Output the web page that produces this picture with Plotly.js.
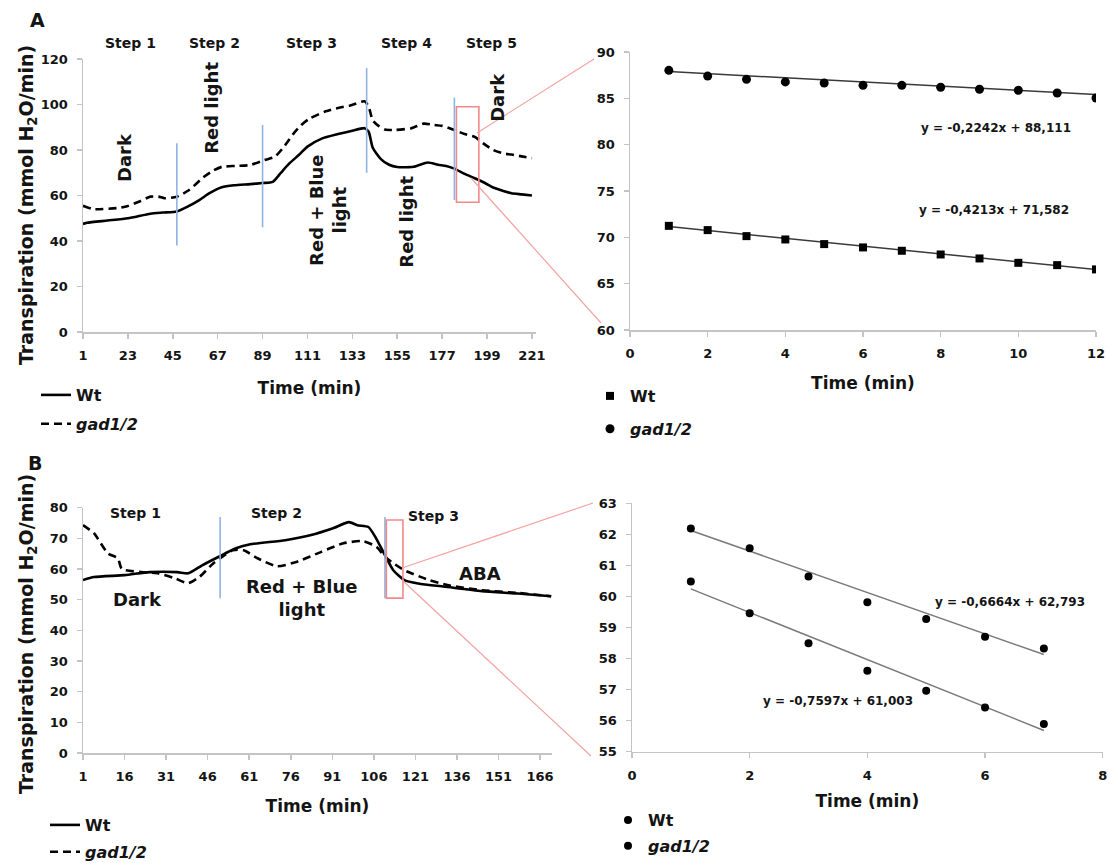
<!DOCTYPE html>
<html><head><meta charset="utf-8">
<script src="https://cdn.plot.ly/plotly-3.0.1.min.js"></script>
<style>html,body{margin:0;padding:0;background:#fff}#chart{width:1109px;height:863px}</style>
</head><body><div id="chart"></div>
<script>
// ---------- Panel A: time course (min 1-221) ----------
const A_ticks = [1, 23, 45, 67, 89, 111, 133, 155, 177, 199, 221];
const A_wt_t = [1, 3, 13, 23, 34, 40, 47, 52, 58, 63, 69, 75, 83, 89, 94, 98, 102, 107, 111, 118, 126, 133, 139, 141, 143, 147, 151, 155, 163, 170, 175, 179, 183, 188, 193, 198, 202, 207, 211, 216, 221];
const A_wt_v = [47.5, 48, 49, 50, 52, 52.5, 53, 55, 58, 61, 63.6, 64.5, 65, 65.5, 66, 70, 74, 78, 81.5, 85, 87, 88.5, 89.6, 88, 81, 76, 73.5, 72.5, 72.6, 74.5, 73.5, 73, 71.8, 69.5, 67.6, 65.5, 63.5, 62, 61, 60.5, 60];
const A_gad_t = [1, 6, 18, 23, 29, 34, 38, 41, 47, 53, 60, 65, 69, 76, 83, 90, 95, 100, 104, 108, 112, 120, 126, 132, 139, 141, 143, 146, 149, 154, 162, 168, 173, 177, 183, 188, 193, 197, 202, 207, 211, 216, 221];
const A_gad_v = [55.5, 54, 54.5, 55.4, 57.5, 59.5, 59.5, 58.8, 59.5, 62.4, 68, 71, 72.6, 73, 73.4, 75.6, 77, 82, 87, 91, 93.8, 97, 98.5, 99.6, 101.4, 99, 93, 90.5, 89, 88.8, 89.6, 91.6, 91, 90.6, 88.8, 87, 85.8, 83, 80, 78.5, 78, 77.2, 76.4];
const A_step_x = [47, 89, 140, 183];
const A_step_lo = [38, 46, 70, 58];
const A_step_hi = [83, 91, 116, 103];
const A_box_x = [184, 195];
const A_box_y = [57, 99];

// ---------- Panel A zoom (12 min, Step 5) ----------
const Az_t = [1, 2, 3, 4, 5, 6, 7, 8, 9, 10, 11, 12];
const Az_wt = [71.24, 70.78, 70.13, 69.77, 69.27, 68.91, 68.55, 68.15, 67.72, 67.25, 67.0, 66.54];
const Az_gad = [88.02, 87.4, 87.05, 86.77, 86.66, 86.4, 86.4, 86.2, 85.98, 85.87, 85.58, 85.04];
const Az_fit_wt = [-0.4213, 71.582];
const Az_fit_gad = [-0.2242, 88.111];

// ---------- Panel B: time course (min 1-170) ----------
const B_ticks = [1, 16, 31, 46, 61, 76, 91, 106, 121, 136, 151, 166];
const B_wt_t = [1, 5, 16, 25, 35, 39, 44, 50, 56, 61, 74, 83, 91, 97, 100, 104, 106.5, 110, 113, 117, 122, 132, 145, 158, 170];
const B_wt_v = [56.4, 57.4, 58, 59, 59, 58.6, 61.2, 64, 66.7, 68, 69.4, 71, 73.2, 75.3, 74.3, 73.7, 70.5, 64.5, 59.6, 56.4, 55.3, 54.2, 52.8, 52, 51.1];
const B_gad_t = [1, 5, 10, 13.6, 15, 22, 28, 34, 39, 43, 48, 55, 59, 64, 71, 78, 87, 95, 102, 107, 110, 113, 117, 126, 133, 145, 158, 170];
const B_gad_v = [74.3, 71.6, 65.1, 63.5, 60, 59, 58.6, 57, 55.4, 57.4, 61.8, 66.1, 66.1, 63.5, 60.9, 62.3, 65.6, 68.4, 69.1, 67.2, 64, 61.9, 59.6, 56.4, 54.7, 53.1, 52.2, 51.1];
const B_step_x = [50.5, 110];
const B_step_lo = [50.5, 50.5];
const B_step_hi = [77, 77];
const B_box_x = [110.5, 116.5];
const B_box_y = [50.5, 76];

// ---------- Panel B zoom (7 min, ABA) ----------
const Bz_t = [1, 2, 3, 4, 5, 6, 7];
const Bz_wt = [60.48, 59.46, 58.49, 57.61, 56.96, 56.42, 55.89];
const Bz_gad = [62.19, 61.55, 60.64, 59.81, 59.27, 58.70, 58.32];
const Bz_fit_wt = [-0.7597, 61.003];
const Bz_fit_gad = [-0.6664, 62.793];

const F = 'DejaVu Sans, sans-serif';
const INK = '#141414';
const W = 1109, H = 863;
const px = v => v / W, py = v => 1 - v / H;

function fitLine(fit, xs) { return xs.map(x => fit[0] * x + fit[1]); }

const traces = [
  {x: A_wt_t, y: A_wt_v, xaxis: 'x', yaxis: 'y', mode: 'lines', name: 'Wt', legend: 'legend', legendgroup: 'a1',
   line: {color: '#000', width: 2.6, shape: 'spline', smoothing: 0.6}},
  {x: A_gad_t, y: A_gad_v, xaxis: 'x', yaxis: 'y', mode: 'lines', name: '<i>gad1/2</i>', legend: 'legend', legendgroup: 'a2',
   line: {color: '#000', width: 2.6, dash: '8px,5px', shape: 'spline', smoothing: 0.6}},

  {x: [1, 12], y: fitLine(Az_fit_wt, [1, 12]), xaxis: 'x2', yaxis: 'y2', mode: 'lines', showlegend: false,
   line: {color: '#3a3a3a', width: 1.5}},
  {x: [1, 12], y: fitLine(Az_fit_gad, [1, 12]), xaxis: 'x2', yaxis: 'y2', mode: 'lines', showlegend: false,
   line: {color: '#3a3a3a', width: 1.5}},
  {x: Az_t, y: Az_wt, xaxis: 'x2', yaxis: 'y2', mode: 'markers', name: 'Wt', legend: 'legend2', legendgroup: 'b1',
   marker: {symbol: 'square', size: 8, color: '#000'}},
  {x: Az_t, y: Az_gad, xaxis: 'x2', yaxis: 'y2', mode: 'markers', name: '<i>gad1/2</i>', legend: 'legend2', legendgroup: 'b2',
   marker: {symbol: 'circle', size: 9, color: '#000'}},

  {x: B_wt_t, y: B_wt_v, xaxis: 'x3', yaxis: 'y3', mode: 'lines', name: 'Wt', legend: 'legend3', legendgroup: 'c1',
   line: {color: '#000', width: 2.6, shape: 'spline', smoothing: 0.6}},
  {x: B_gad_t, y: B_gad_v, xaxis: 'x3', yaxis: 'y3', mode: 'lines', name: '<i>gad1/2</i>', legend: 'legend3', legendgroup: 'c2',
   line: {color: '#000', width: 2.6, dash: '8px,5px', shape: 'spline', smoothing: 0.6}},

  {x: [1, 7], y: fitLine(Bz_fit_wt, [1, 7]), xaxis: 'x4', yaxis: 'y4', mode: 'lines', showlegend: false,
   line: {color: '#7a7a7a', width: 1.5}},
  {x: [1, 7], y: fitLine(Bz_fit_gad, [1, 7]), xaxis: 'x4', yaxis: 'y4', mode: 'lines', showlegend: false,
   line: {color: '#7a7a7a', width: 1.5}},
  {x: Bz_t, y: Bz_wt, xaxis: 'x4', yaxis: 'y4', mode: 'markers', name: 'Wt', legend: 'legend4', legendgroup: 'd1',
   marker: {symbol: 'circle', size: 8, color: '#000'}},
  {x: Bz_t, y: Bz_gad, xaxis: 'x4', yaxis: 'y4', mode: 'markers', name: '<i>gad1/2</i>', legend: 'legend4', legendgroup: 'd2',
   marker: {symbol: 'circle', size: 8, color: '#000'}}
];

const tickFont = {family: F, size: 13, weight: 'bold', color: INK};
const titleFont = {family: F, size: 17, weight: 'bold', color: INK};
function axis(extra) {
  return Object.assign({
    showline: true, linecolor: '#c4c4c4', linewidth: 1.5, ticks: 'outside', ticklen: 5, tickcolor: '#c4c4c4',
    tickwidth: 1.5, showgrid: false, zeroline: false, tickfont: tickFont, fixedrange: true, ticklabelstandoff: 6,
    automargin: false
  }, extra);
}
function xTitle(s) { return {text: 'Time (min)', font: titleFont, standoff: s}; }
const Y_TITLE = 'Transpiration (mmol H<sub>2</sub>O/min)';

const shapes = [];
A_step_x.forEach((x, i) => shapes.push({type: 'line', xref: 'x', yref: 'y', x0: x, x1: x, y0: A_step_lo[i], y1: A_step_hi[i], line: {color: '#8db3e2', width: 1.6}}));
B_step_x.forEach((x, i) => shapes.push({type: 'line', xref: 'x3', yref: 'y3', x0: x, x1: x, y0: B_step_lo[i], y1: B_step_hi[i], line: {color: '#8db3e2', width: 1.6}}));
shapes.push({type: 'rect', xref: 'x', yref: 'y', x0: A_box_x[0], x1: A_box_x[1], y0: A_box_y[0], y1: A_box_y[1], line: {color: '#f08a8a', width: 1.6}});
shapes.push({type: 'rect', xref: 'x3', yref: 'y3', x0: B_box_x[0], x1: B_box_x[1], y0: B_box_y[0], y1: B_box_y[1], line: {color: '#f08a8a', width: 1.6}});
// zoom connector lines (paper coordinates)
const conn = {color: '#f4a3a3', width: 1.2};
shapes.push({type: 'line', xref: 'paper', yref: 'paper', x0: px(477), y0: py(133), x1: px(594), y1: py(59), line: conn});
shapes.push({type: 'line', xref: 'paper', yref: 'paper', x0: px(471), y0: py(178), x1: px(601), y1: py(323), line: conn});
shapes.push({type: 'line', xref: 'paper', yref: 'paper', x0: px(402), y0: py(568), x1: px(593), y1: py(503), line: conn});
shapes.push({type: 'line', xref: 'paper', yref: 'paper', x0: px(402), y0: py(580), x1: px(591), y1: py(756), line: conn});

const big = {family: F, size: 18, weight: 'bold', color: INK};
const stepF = {family: F, size: 14, weight: 'bold', color: INK};
const eqF = {family: F, size: 12, weight: 'bold', color: INK};
const yTitleF = {family: F, size: 19, weight: 'bold', color: INK};
const ann = [];
function A(o) { ann.push(Object.assign({showarrow: false, xanchor: 'center', yanchor: 'middle'}, o)); }
A({xref: 'paper', yref: 'paper', x: px(37), y: py(20), text: 'A', font: {family: F, size: 19, weight: 'bold', color: INK}});
A({xref: 'paper', yref: 'paper', x: px(35), y: py(463), text: 'B', font: {family: F, size: 19, weight: 'bold', color: INK}});
// y-axis titles
A({xref: 'paper', yref: 'paper', x: px(27), y: py(205), text: Y_TITLE, textangle: -90, font: yTitleF});
A({xref: 'paper', yref: 'paper', x: px(27), y: py(634), text: Y_TITLE, textangle: -90, font: yTitleF});

['Step 1', 'Step 2', 'Step 3', 'Step 4', 'Step 5'].forEach((t, i) =>
  A({xref: 'x', yref: 'paper', x: [24.5, 65.2, 113.2, 159.3, 201.4][i], y: py(43), text: t, font: stepF}));
A({xref: 'x', yref: 'y', x: 21.6, y: 76.5, text: 'Dark', textangle: -90, font: big});
A({xref: 'x', yref: 'y', x: 64.2, y: 98.5, text: 'Red light', textangle: -90, font: big});
A({xref: 'x', yref: 'y', x: 121, y: 53.6, text: 'Red + Blue<br>light', textangle: -90, font: big});
A({xref: 'x', yref: 'y', x: 159.7, y: 48.4, text: 'Red light', textangle: -90, font: big});
A({xref: 'x', yref: 'y', x: 204.3, y: 103.3, text: 'Dark', textangle: -90, font: big});

A({xref: 'x2', yref: 'y2', x: 9.42, y: 81.8, text: 'y = -0,2242x + 88,111', font: eqF});
A({xref: 'x2', yref: 'y2', x: 9.37, y: 72.95, text: 'y = -0,4213x + 71,582', font: eqF});

['Step 1', 'Step 2', 'Step 3'].forEach((t, i) =>
  A({xref: 'x3', yref: 'y3', x: [19.8, 71, 127.4][i], y: [78.2, 78.2, 77.2][i], text: t, font: stepF}));
A({xref: 'x3', yref: 'y3', x: 20.5, y: 50.2, text: 'Dark', font: big});
A({xref: 'x3', yref: 'y3', x: 80, y: 50.5, text: 'Red + Blue<br>light', font: big});
A({xref: 'x3', yref: 'y3', x: 144.3, y: 58.6, text: 'ABA', font: big});

A({xref: 'x4', yref: 'y4', x: 6.42, y: 59.82, text: 'y = -0,6664x + 62,793', font: eqF});
A({xref: 'x4', yref: 'y4', x: 3.5, y: 56.64, text: 'y = -0,7597x + 61,003', font: eqF});

const legFont = {family: F, size: 16, weight: 'bold', color: INK};
function leg(x, y, gap) {
  return {x: px(x), y: py(y), xref: 'container', yref: 'container', xanchor: 'left', yanchor: 'top',
    bgcolor: 'rgba(0,0,0,0)', borderwidth: 0, font: legFont, tracegroupgap: gap, traceorder: 'grouped',
    itemclick: false, itemdoubleclick: false};
}

const layout = {
  width: W, height: H, margin: {l: 0, r: 0, t: 0, b: 0, pad: 0, autoexpand: false},
  paper_bgcolor: '#fff', plot_bgcolor: 'rgba(0,0,0,0)', hovermode: false, showlegend: true,
  xaxis: axis({domain: [px(83), px(536)], range: [1, 223], tickvals: A_ticks, anchor: 'y', title: xTitle(20)}),
  yaxis: axis({domain: [py(332), py(59)], range: [0, 120], dtick: 20, anchor: 'x'}),
  xaxis2: axis({domain: [px(630), px(1096)], range: [0, 12], dtick: 2, anchor: 'y2', title: xTitle(17)}),
  yaxis2: axis({domain: [py(330), py(52)], range: [60, 90], dtick: 5, anchor: 'x2'}),
  xaxis3: axis({domain: [px(83), px(552)], range: [1, 170.3], tickvals: B_ticks, anchor: 'y3', title: xTitle(17)}),
  yaxis3: axis({domain: [py(753), py(507.7)], range: [0, 80], dtick: 10, anchor: 'x3'}),
  xaxis4: axis({domain: [px(632), px(1102.7)], range: [0, 8], dtick: 2, anchor: 'y4', title: xTitle(13)}),
  yaxis4: axis({domain: [py(751.7), py(503.3)], range: [55, 63], dtick: 1, anchor: 'x4'}),
  legend: leg(36, 378, 5),
  legend2: leg(590, 379, 9),
  legend3: leg(45, 808, 3),
  legend4: leg(608, 803, 2),
  shapes: shapes,
  annotations: ann
};

Plotly.newPlot('chart', traces, layout, {displayModeBar: false, staticPlot: true});
</script>
</body></html>
